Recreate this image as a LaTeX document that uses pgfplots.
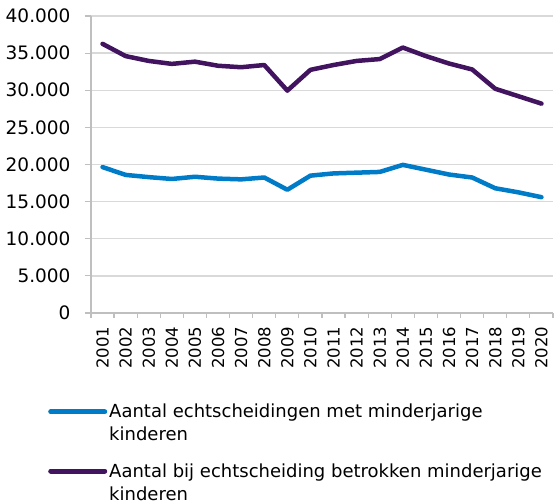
\documentclass[border=0pt]{standalone}
\usepackage{fontspec}
\setmainfont{DejaVu Sans}
\usepackage{pgfplots}
\pgfplotsset{compat=1.18}
\definecolor{rhblue}{HTML}{007BC7}
\definecolor{rhviolet}{HTML}{42145F}
\definecolor{gridgray}{HTML}{D9D9D9}
\definecolor{axisgray}{HTML}{BFBFBF}
\begin{document}
\begin{tikzpicture}
\useasboundingbox (-91pt,-191pt) rectangle (467pt,313pt);
\begin{axis}[
  at={(0,0)}, anchor=south west,
  scale only axis, width=462pt, height=297pt,
  xmin=0.5, xmax=20.5, ymin=0, ymax=40000,
  axis x line*=bottom, axis y line*=left,
  axis line style={draw=axisgray, line width=1.4pt},
  xtick={1,...,20},
  xticklabels={2001,2002,2003,2004,2005,2006,2007,2008,2009,2010,2011,2012,2013,2014,2015,2016,2017,2018,2019,2020},
  minor xtick={0.5,1.5,...,20.5},
  major x tick style={draw=none},
  minor x tick style={draw=axisgray, line width=1.2pt},
  minor tick length=5pt,
  ytick={0,5000,...,40000},
  y tick style={draw=axisgray, line width=1.2pt},
  major tick length=6pt,
  tick align=outside,
  ymajorgrids, grid style={draw=gridgray, line width=1.3pt},
  scaled y ticks=false,
  /pgf/number format/.cd, 1000 sep={.}, assume math mode=true, /pgfplots/.cd,
  yticklabel style={font=\fontsize{18.5}{22}\selectfont, anchor=east, xshift=-11pt},
  xticklabel style={font=\fontsize{16.5}{20}\selectfont, rotate=90, anchor=east},
  xticklabel shift=4pt,
  legend style={at={(-0.093,-0.300)}, anchor=north west, draw=none, fill=none,
    inner sep=0pt, font=\fontsize{18}{23}\selectfont, row sep=17pt,
    cells={anchor=west, align=left}},
  legend image code/.code={\path[draw=none, fill=none] (0pt,-11.5pt) rectangle (54pt,11.5pt);
    \draw[#1, line width=5pt, line cap=round] (0pt,11.5pt) -- (54pt,11.5pt);},
  clip=false,
]
\addplot[rhblue, line width=4.5pt, line join=round, line cap=round] coordinates {
  (1,19650) (2,18600) (3,18300) (4,18050) (5,18350) (6,18100) (7,18000) (8,18250) (9,16600) (10,18500)
  (11,18800) (12,18900) (13,19000) (14,19950) (15,19300) (16,18650) (17,18250) (18,16800) (19,16250) (20,15600)
};
\addlegendentry{Aantal echtscheidingen met minderjarige\\kinderen}
\addplot[rhviolet, line width=4.5pt, line join=round, line cap=round] coordinates {
  (1,36250) (2,34600) (3,33950) (4,33550) (5,33850) (6,33300) (7,33100) (8,33400) (9,29950) (10,32750)
  (11,33400) (12,33950) (13,34200) (14,35750) (15,34600) (16,33600) (17,32800) (18,30200) (19,29200) (20,28200)
};
\addlegendentry{Aantal bij echtscheiding betrokken minderjarige\\kinderen}
\end{axis}
\end{tikzpicture}
\end{document}
